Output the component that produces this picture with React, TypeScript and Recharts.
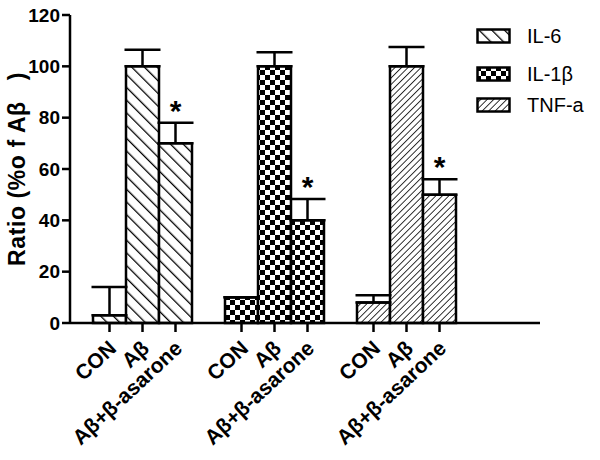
import React from 'react';
import { ComposedChart, Bar, Scatter, XAxis, YAxis, ErrorBar, Cell } from 'recharts';

// categories (blank entries are the gaps between cytokine groups)
const groups = ['CON', 'Aβ', 'Aβ+β-asarone', '', 'CON', 'Aβ', 'Aβ+β-asarone', '', 'CON', 'Aβ', 'Aβ+β-asarone'];
const cytokine = ['IL-6', 'IL-6', 'IL-6', '', 'IL-1β', 'IL-1β', 'IL-1β', '', 'TNF-a', 'TNF-a', 'TNF-a'];
const means = [3, 100, 70, 0, 10, 100, 40, 0, 8, 100, 50];
const sem = [11, 6.5, 8, 0, 0, 5.5, 8.3, 0, 2.8, 7.5, 6];
const significant = [false, false, true, false, false, false, true, false, false, false, true];
const yTicks = [0, 20, 40, 60, 80, 100, 120];
const legendItems = ['IL-6', 'IL-1β', 'TNF-a'];
const legendTops = [28, 66, 97];

const patternId: Record<string, string> = {
  'IL-6': 'url(#hatchBack)',
  'IL-1β': 'url(#checker)',
  'TNF-a': 'url(#hatchFwd)',
};

const data = groups.map((g, i) => ({
  key: i,
  cytokine: cytokine[i],
  value: means[i],
  err: [0, sem[i]],
  star: significant[i] ? means[i] + sem[i] : null,
}));

const font = 'Arial, "Liberation Sans", Helvetica, sans-serif';

const Patterns = () => (
  <defs>
    <pattern id="hatchBack" patternUnits="userSpaceOnUse" width="9" height="9" patternTransform="rotate(-45)">
      <rect width="9" height="9" fill="#fff" />
      <line x1="0" y1="0" x2="0" y2="9" stroke="#000" strokeWidth="2.6" />
    </pattern>
    <pattern id="hatchFwd" patternUnits="userSpaceOnUse" width="4.6" height="4.6" patternTransform="rotate(45)">
      <rect width="4.6" height="4.6" fill="#fff" />
      <line x1="0" y1="0" x2="0" y2="4.6" stroke="#000" strokeWidth="1.6" />
    </pattern>
    <pattern id="checker" patternUnits="userSpaceOnUse" width="10" height="10">
      <rect width="10" height="10" fill="#fff" />
      <rect x="0" y="0" width="5" height="5" fill="#000" />
      <rect x="5" y="5" width="5" height="5" fill="#000" />
    </pattern>
  </defs>
);

const XTick = (props: any) => {
  const { x, y, payload } = props;
  const label = groups[payload.value];
  if (!label) return null;
  return (
    <g transform={`translate(${x},${y})`}>
      <line x1={0} y1={-8} x2={0} y2={1} stroke="#000" strokeWidth={2.5} />
      <text
        x={8}
        y={19}
        textAnchor="end"
        transform="rotate(-43 8 19)"
        fontFamily={font}
        fontWeight="bold"
        fontSize={21}
        fill="#000"
      >
        {label}
      </text>
    </g>
  );
};

const Star = (props: any) => {
  const { cx, cy } = props;
  if (cx == null || cy == null) return null;
  return (
    <text x={cx} y={cy - 2} textAnchor="middle" fontFamily={font} fontWeight="bold" fontSize={30} fill="#000">
      *
    </text>
  );
};

const LegendBox = () => (
  <div style={{ position: 'absolute', left: 0, top: 0, fontFamily: font, fontSize: 20, color: '#000' }}>
    {legendItems.map((name, i) => (
      <div key={name} style={{ position: 'absolute', left: 476, top: legendTops[i], width: 120, height: 16 }}>
        <svg width={36} height={18} style={{ position: 'absolute', left: 0, top: 0 }}>
          <rect x={1.5} y={1.5} width={32} height={13} fill={patternId[name]} stroke="#000" strokeWidth={2.5} />
        </svg>
        <span style={{ position: 'absolute', left: 51, top: -3, lineHeight: '22px', whiteSpace: 'nowrap' }}>{name}</span>
      </div>
    ))}
  </div>
);

export default function App() {
  return (
    <div style={{ position: 'absolute', left: 0, top: 0, width: 600, height: 460, background: '#fff' }}>
      <svg width={0} height={0} style={{ position: 'absolute' }}>
        <Patterns />
      </svg>
      <ComposedChart
        width={600}
        height={460}
        data={data}
        margin={{ top: 15, right: 60, bottom: 10, left: 20 }}
        barCategoryGap={0}
        barGap={0}
      >
        <XAxis
          dataKey="key"
          interval={0}
          height={127}
          padding={{ left: 23, right: 84 }}
          axisLine={{ stroke: '#000', strokeWidth: 2.5 }}
          tickLine={false}
          tick={<XTick />}
        />
        <YAxis
          domain={[0, 120]}
          ticks={yTicks}
          width={50}
          axisLine={{ stroke: '#000', strokeWidth: 2.5 }}
          tickLine={{ stroke: '#000', strokeWidth: 2.5 }}
          tickSize={8}
          tick={{ fill: '#000', fontSize: 19, fontWeight: 'bold', fontFamily: font }}
          label={{
            value: 'Ratio (%o f Aβ\u00a0\u00a0\u00a0)',
            angle: -90,
            position: 'insideLeft',
            offset: -3,
            dy: 0,
            style: { fill: '#000', fontSize: 23, fontWeight: 'bold', fontFamily: font, textAnchor: 'middle', letterSpacing: 0.6 },
          }}
        />
        <Bar dataKey="value" isAnimationActive={false} stroke="#000" strokeWidth={2.5}>
          {data.map((d) => (
            <Cell key={d.key} fill={patternId[d.cytokine] || 'none'} stroke={d.cytokine ? '#000' : 'none'} />
          ))}
          <ErrorBar dataKey="err" width={18} stroke="#000" strokeWidth={2.5} direction="y" />
        </Bar>
        <Scatter dataKey="star" isAnimationActive={false} shape={<Star />} />
      </ComposedChart>
      <LegendBox />
    </div>
  );
}
